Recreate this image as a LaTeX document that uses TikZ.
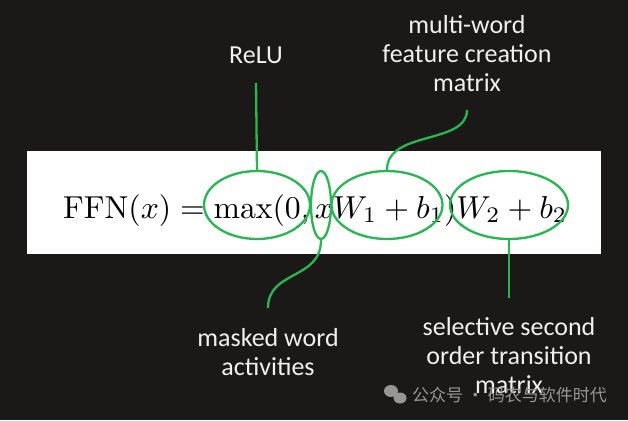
\documentclass[tikz,border=0pt]{standalone}
\usepackage[no-math]{fontspec}
\usepackage{graphicx}
\newfontfamily\lab{Carlito}
\newfontfamily\cjk{Noto Sans CJK SC}
\usetikzlibrary{shapes.geometric}
\definecolor{bg}{RGB}{27,24,24}
\definecolor{hl}{RGB}{38,184,80}
\definecolor{lbl}{RGB}{240,240,240}
\definecolor{wm}{RGB}{150,150,150}
\tikzset{
  hlring/.style={draw=hl, line width=2.3pt, ellipse, inner sep=0pt},
  hlline/.style={draw=hl, line width=2.3pt},
  lbltext/.style={text=lbl, align=center, font=\lab\fontsize{26}{29}\selectfont, inner sep=0pt},
}
\begin{document}
\begin{tikzpicture}[x=1pt,y=-1pt]
\useasboundingbox[fill=bg] (0,0) rectangle (628,420);
\fill[white] (27,151) rectangle (601,254);
\node[anchor=base west, inner sep=0pt] (eq) at (63,218)
  {\resizebox{504pt}{!}{$\mathrm{FFN}(x) = \max(0, xW_1 + b_1)W_2 + b_2$}};
\node[hlring, minimum width=106pt, minimum height=68pt] (e1) at (257,205) {};
\node[hlring, minimum width=20pt, minimum height=68pt] (e2) at (321,205) {};
\node[hlring, minimum width=111pt, minimum height=68pt] (e3) at (387,205) {};
\node[hlring, minimum width=118pt, minimum height=68pt] (e4) at (509,205) {};
% labels
\node[lbltext] (relu) at (256,55) {ReLU};
\node[lbltext] (multi) at (467,54) {multi-word\\feature creation\\matrix};
\node[lbltext] (masked) at (268,352) {masked word\\activities};
\node[lbltext] (sel) at (509,356) {selective second\\order transition\\matrix};
\coordinate (reluend) at (256,83);
\coordinate (multiend) at (467,110);
\coordinate (maskedend) at (268,308);
\coordinate (selend) at (509,298);
\draw[hlline] (reluend) -- (e1.north);
\draw[hlline] (multiend) .. controls (467,145) and (387,130) .. (e3.north);
\draw[hlline] (e2.south) .. controls (321,280) and (268,270) .. (maskedend);
\draw[hlline] (e4.south) -- (selend);
% watermark
\node[text=wm, anchor=west, inner sep=0pt, font=\cjk\fontsize{17}{19}\selectfont] (wmtext) at (412,395) {公众号 · 码农与软件时代};
\fill[wm] (391,391) ellipse (7pt and 6pt);
\fill[wm] (400,398) ellipse (6.5pt and 5.5pt);
\end{tikzpicture}
\end{document}
